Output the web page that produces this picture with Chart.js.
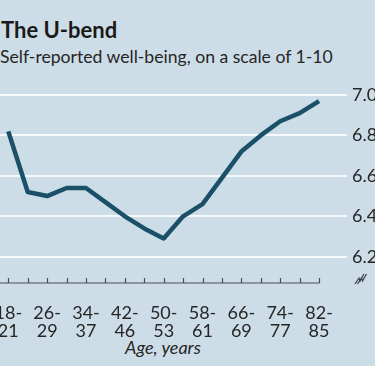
<!DOCTYPE html>
<html>
<head>
<meta charset="utf-8">
<script src="https://cdn.jsdelivr.net/npm/chart.js@4.4.0/dist/chart.umd.min.js"></script>
<style>
  html, body { margin: 0; padding: 0; }
  body { width: 375px; height: 366px; background: #cddde7; position: relative; overflow: hidden; font-family: Lato, "Noto Sans", sans-serif; }
  #title { position: absolute; left: 1px; top: 19px; font-size: 22px; line-height: 22px; font-weight: bold; color: #1a1a1a; white-space: nowrap; }
  #subtitle { position: absolute; left: 0px; top: 48px; font-size: 17.6px; line-height: 18px; color: #262626; white-space: nowrap; }
  #xtitle { position: absolute; left: 63px; width: 200px; top: 338px; text-align: center; font-size: 18px; line-height: 18px; font-style: italic; color: #262626; white-space: nowrap; }
  #wrap { position: absolute; left: 0; top: 0; width: 375px; height: 366px; }
</style>
</head>
<body>
<div id="title">The U-bend</div>
<div id="subtitle">Self-reported well-being, on a scale of 1-10</div>
<div id="xtitle">Age, years</div>
<div id="wrap"><canvas id="c" width="375" height="366"></canvas></div>
<script>
// Age groups (one data point each)
const ageGroups = ["18-21","22-25","26-29","30-33","34-37","38-41","42-46","47-49","50-53","54-57","58-61","62-65","66-69","70-73","74-77","78-81","82-85"];
// Self-reported well-being (scale 1-10)
const wellBeing = [6.82, 6.52, 6.50, 6.54, 6.54, 6.47, 6.40, 6.34, 6.29, 6.40, 6.46, 6.59, 6.72, 6.80, 6.87, 6.91, 6.97];
// Labelled x ticks (every other age group)
const xTickLabels = [["18-","21"],["26-","29"],["34-","37"],["42-","46"],["50-","53"],["58-","61"],["66-","69"],["74-","77"],["82-","85"]];
// Y axis ticks
const yTicks = [6.2, 6.4, 6.6, 6.8, 7.0];

const points = wellBeing.map((v, i) => ({ x: i, y: v }));
const txt = "#262626";

const axisPlugin = {
  id: "axisDecor",
  afterDraw(chart) {
    const ctx = chart.ctx;
    const xs = chart.scales.x;
    const ys = chart.scales.y;
    const base = chart.chartArea.bottom;
    ctx.save();
    ctx.strokeStyle = "#4a4f54";
    ctx.lineWidth = 1.2;
    const xEnd = xs.getPixelForValue(ageGroups.length - 1);
    ctx.beginPath();
    ctx.moveTo(chart.chartArea.left, base);
    ctx.lineTo(xEnd + 0.6, base);
    ctx.stroke();
    ageGroups.forEach((g, i) => {
      const px = Math.round(xs.getPixelForValue(i)) + 0.5;
      ctx.beginPath();
      ctx.moveTo(px, base);
      ctx.lineTo(px, base - 5);
      ctx.stroke();
    });
    const bx = ys.left + 8;
    const by = base - 3;
    ctx.strokeStyle = "#3a3f44";
    ctx.lineWidth = 1.2;
    [0, 2.5].forEach(o => {
      ctx.beginPath();
      ctx.moveTo(bx + o, by + 4);
      ctx.lineTo(bx + o + 4, by - 2);
      ctx.lineTo(bx + o + 5, by + 1);
      ctx.lineTo(bx + o + 9, by - 6);
      ctx.stroke();
    });
    ctx.restore();
  }
};

new Chart(document.getElementById("c"), {
  type: "line",
  data: {
    datasets: [{
      data: points,
      borderColor: "#1a5169",
      borderWidth: 4.5,
      pointRadius: 0,
      tension: 0,
      borderJoinStyle: "round",
      fill: false
    }]
  },
  options: {
    responsive: false,
    animation: false,
    events: [],
    layout: { padding: { top: 95, left: 0, right: 0, bottom: 0 } },
    plugins: { legend: { display: false }, tooltip: { enabled: false }, title: { display: false } },
    scales: {
      x: {
        type: "linear",
        min: -0.427,
        max: 17.44,
        grid: { display: false },
        border: { display: false },
        afterBuildTicks(scale) { scale.ticks = ageGroups.map((g, i) => ({ value: i })); },
        afterFit(scale) { scale.height = 83; scale.paddingLeft = 0; scale.paddingRight = 0; },
        ticks: {
          autoSkip: false,
          maxRotation: 0,
          minRotation: 0,
          padding: 13,
          color: txt,
          font: { family: "Lato", size: 18, lineHeight: 1.0 },
          callback(value) { return value % 2 === 0 ? xTickLabels[value / 2] : ""; }
        }
      },
      y: {
        position: "right",
        min: 6.07,
        max: 7.0,
        afterBuildTicks(scale) { scale.ticks = yTicks.map(v => ({ value: v })); },
        afterFit(scale) { scale.width = 28; scale.paddingTop = 0; scale.paddingBottom = 0; },
        grid: { color: "#f7fafc", lineWidth: 2, drawTicks: false },
        border: { display: false },
        ticks: {
          padding: 5,
          color: txt,
          font: { family: "Lato", size: 18 },
          callback(value) { return value.toFixed(1); }
        }
      }
    }
  },
  plugins: [axisPlugin]
});
</script>
</body>
</html>
